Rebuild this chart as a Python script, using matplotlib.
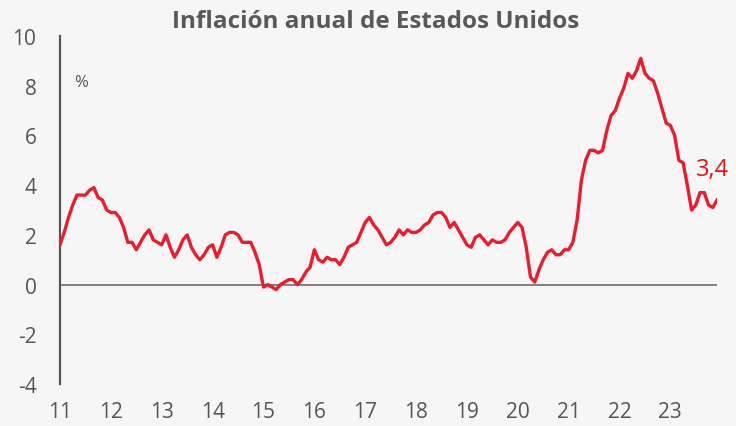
import numpy as np
import matplotlib.pyplot as plt

# US CPI, annual change (%), monthly Jan-2011 .. Dec-2023
cpi_2011 = [1.6, 2.1, 2.7, 3.2, 3.6, 3.6, 3.6, 3.8, 3.9, 3.5, 3.4, 3.0]
cpi_2012 = [2.9, 2.9, 2.7, 2.3, 1.7, 1.7, 1.4, 1.7, 2.0, 2.2, 1.8, 1.7]
cpi_2013 = [1.6, 2.0, 1.5, 1.1, 1.4, 1.8, 2.0, 1.5, 1.2, 1.0, 1.2, 1.5]
cpi_2014 = [1.6, 1.1, 1.5, 2.0, 2.1, 2.1, 2.0, 1.7, 1.7, 1.7, 1.3, 0.8]
cpi_2015 = [-0.1, 0.0, -0.1, -0.2, 0.0, 0.1, 0.2, 0.2, 0.0, 0.2, 0.5, 0.7]
cpi_2016 = [1.4, 1.0, 0.9, 1.1, 1.0, 1.0, 0.8, 1.1, 1.5, 1.6, 1.7, 2.1]
cpi_2017 = [2.5, 2.7, 2.4, 2.2, 1.9, 1.6, 1.7, 1.9, 2.2, 2.0, 2.2, 2.1]
cpi_2018 = [2.1, 2.2, 2.4, 2.5, 2.8, 2.9, 2.9, 2.7, 2.3, 2.5, 2.2, 1.9]
cpi_2019 = [1.6, 1.5, 1.9, 2.0, 1.8, 1.6, 1.8, 1.7, 1.7, 1.8, 2.1, 2.3]
cpi_2020 = [2.5, 2.3, 1.5, 0.3, 0.1, 0.6, 1.0, 1.3, 1.4, 1.2, 1.2, 1.4]
cpi_2021 = [1.4, 1.7, 2.6, 4.2, 5.0, 5.4, 5.4, 5.3, 5.4, 6.2, 6.8, 7.0]
cpi_2022 = [7.5, 7.9, 8.5, 8.3, 8.6, 9.1, 8.5, 8.3, 8.2, 7.7, 7.1, 6.5]
cpi_2023 = [6.4, 6.0, 5.0, 4.9, 4.0, 3.0, 3.2, 3.7, 3.7, 3.2, 3.1, 3.4]

years = list(range(2011, 2024))
year_labels = [str(y)[2:] for y in years]
y_ticks = [-4, -2, 0, 2, 4, 6, 8, 10]
last_label = "3,4"

cpi = (cpi_2011 + cpi_2012 + cpi_2013 + cpi_2014 + cpi_2015 + cpi_2016 + cpi_2017
       + cpi_2018 + cpi_2019 + cpi_2020 + cpi_2021 + cpi_2022 + cpi_2023)
dates = [2011 + i / 12 for i in range(len(cpi))]

bg = '#f6f6f6'
grey = '#555555'
red = '#ec1c2e'

plt.rcParams['font.family'] = ['Open Sans', 'DejaVu Sans']
plt.rcParams['axes.unicode_minus'] = False

fig = plt.figure(figsize=(7.36, 4.27), dpi=100, facecolor=bg)
ax = fig.add_axes([60 / 736, 42 / 427, 657 / 736, 348 / 427], facecolor=bg)

ax.plot(dates, cpi, color=red, lw=2.4, solid_joinstyle='round', zorder=3)
ax.axhline(0, color='#777777', lw=1.3, zorder=2)

ax.set_xlim(2011, dates[-1])
ax.set_ylim(-4, 10)

for s in ['top', 'right', 'bottom']:
    ax.spines[s].set_visible(False)
ax.spines['left'].set_color('#555555')
ax.spines['left'].set_linewidth(1.6)

ax.set_xticks(years)
ax.set_xticklabels(year_labels)
ax.set_yticks(y_ticks)
ax.tick_params(axis='x', length=0, pad=12, labelsize=15, labelcolor=grey)
ax.tick_params(axis='y', length=0, pad=17, labelsize=15, labelcolor=grey)

ax.text(0.022, 0.855, '%', transform=ax.transAxes, fontsize=12, color=grey)
ax.annotate(last_label, xy=(dates[-1], cpi[-1]), xytext=(-15, 18),
            textcoords='offset points', fontsize=17, color='#f01010',
            annotation_clip=False)

fig.text(0.51, 0.948, 'Inflación anual de Estados Unidos', ha='center', va='center',
         fontsize=17.5, fontweight='bold', color='#595959')

fig.savefig('out.png', dpi=100, facecolor=bg)
